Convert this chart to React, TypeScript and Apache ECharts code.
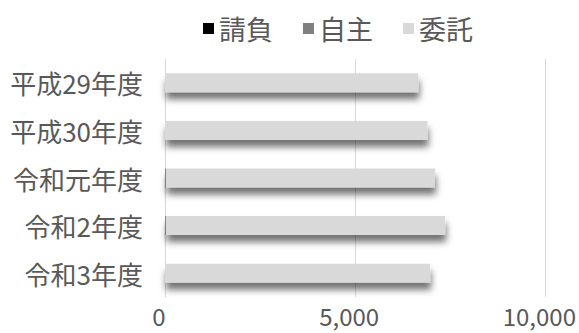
import React, { useEffect, useRef } from "react";
import * as echarts from "echarts";

const categories = ["平成29年度", "平成30年度", "令和元年度", "令和2年度", "令和3年度"];
const ukeoi = [0, 0, 0, 0, 0];
const jishu = [0, 0, 25, 25, 0];
const itaku = [6660, 6900, 7070, 7340, 6970];
const xTicks = { min: 0, max: 10000, interval: 5000 };

const FONT = "'Noto Sans CJK JP', 'Noto Sans', sans-serif";
const TEXT = "#595959";

export default function App() {
  const ref = useRef<HTMLDivElement>(null);
  useEffect(() => {
    if (!ref.current) return;
    const chart = echarts.init(ref.current, undefined, { renderer: "svg" });
    const shadow = {
      shadowBlur: 7,
      shadowOffsetX: 1,
      shadowOffsetY: 7,
      shadowColor: "rgba(0,0,0,0.55)",
    };
    const mk = (name: string, data: number[], color: string) => ({
      name,
      type: "bar",
      stack: "total",
      data,
      barWidth: 19,
      itemStyle: { color, ...shadow },
    });
    chart.setOption({
      animation: false,
      textStyle: { fontFamily: FONT },
      legend: {
        top: 10,
        left: 198,
        itemWidth: 11,
        itemHeight: 11,
        itemGap: 30,
        icon: "rect",
        textStyle: { fontSize: 27, color: TEXT, fontFamily: FONT },
        data: ["請負", "自主", "委託"],
      },
      grid: { left: 165, right: 30, top: 59, bottom: 36, containLabel: false },
      xAxis: {
        type: "value",
        min: xTicks.min,
        max: xTicks.max,
        interval: xTicks.interval,
        axisLine: { show: false },
        axisTick: { show: false },
        splitLine: { lineStyle: { color: "#d9d9d9", width: 1 } },
        axisLabel: {
          fontSize: 24,
          color: TEXT,
          fontFamily: FONT,
          margin: 6,
          padding: [0, 12, 0, 0],
          formatter: (v: number) => v.toLocaleString("ja-JP"),
        },
      },
      yAxis: {
        type: "category",
        inverse: true,
        data: categories,
        axisLine: { show: true, lineStyle: { color: "#d9d9d9" } },
        axisTick: { show: false },
        axisLabel: { fontSize: 26, color: TEXT, fontFamily: FONT, margin: 22 },
      },
      series: [
        mk("請負", ukeoi, "#000000"),
        mk("自主", jishu, "#7f7f7f"),
        mk("委託", itaku, "#d9d9d9"),
      ],
    });
    return () => chart.dispose();
  }, []);
  return <div ref={ref} style={{ width: 579, height: 333, position: "absolute", left: 0, top: 0 }} />;
}
